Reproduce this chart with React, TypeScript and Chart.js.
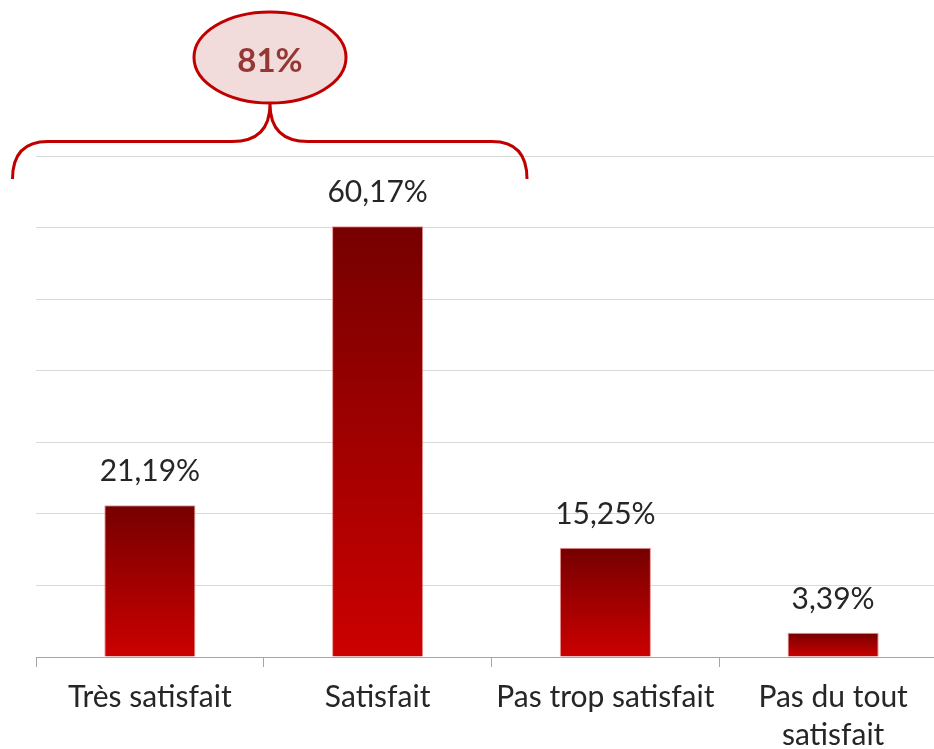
import React, { useEffect, useRef } from "react";
import { Chart, registerables } from "chart.js";

Chart.register(...registerables);

const categories: (string | string[])[] = [
  "Très satisfait",
  "Satisfait",
  "Pas trop satisfait",
  ["Pas du tout", "satisfait"],
];
const values = [21.19, 60.17, 15.25, 3.39];
const yMin = 0;
const yMax = 70;
const yStep = 10;
const groupedIndexes = [0, 1];

const FONT = "Lato, 'Noto Sans', sans-serif";
const fmt = (v: number) => v.toFixed(2).replace(".", ",") + "%";

const barLabelsPlugin = {
  id: "barLabels",
  afterDatasetsDraw(chart: any) {
    const ctx = chart.ctx;
    const meta = chart.getDatasetMeta(0);
    ctx.save();
    ctx.font = `30px ${FONT}`;
    ctx.fillStyle = "#262626";
    ctx.textAlign = "center";
    ctx.textBaseline = "alphabetic";
    meta.data.forEach((bar: any, i: number) => {
      ctx.fillText(fmt(values[i]), bar.x, bar.y - 24);
    });
    ctx.restore();
  },
};

const bracePlugin = {
  id: "brace",
  afterDraw(chart: any) {
    const ctx = chart.ctx;
    const total = Math.round(groupedIndexes.reduce((s, i) => s + values[i], 0));
    ctx.save();
    ctx.strokeStyle = "#c00000";
    ctx.lineWidth = 3;
    ctx.lineCap = "butt";
    const yH = 141.5;
    const peakX = 270;
    const peakY = 104;
    ctx.beginPath();
    ctx.moveTo(12.5, 179);
    ctx.quadraticCurveTo(12.5, yH, 48, yH);
    ctx.lineTo(232, yH);
    ctx.quadraticCurveTo(peakX, yH, peakX, peakY);
    ctx.quadraticCurveTo(peakX, yH, 308, yH);
    ctx.lineTo(492, yH);
    ctx.quadraticCurveTo(527, yH, 527, 179);
    ctx.stroke();

    ctx.beginPath();
    ctx.ellipse(270, 57.5, 76, 45.5, 0, 0, Math.PI * 2);
    ctx.fillStyle = "#f2dcdb";
    ctx.fill();
    ctx.stroke();

    ctx.fillStyle = "#953735";
    ctx.font = `bold 33px ${FONT}`;
    ctx.textAlign = "center";
    ctx.textBaseline = "alphabetic";
    ctx.fillText(`${total}%`, 270, 72);
    ctx.restore();
  },
};

export default function App() {
  const canvasRef = useRef<HTMLCanvasElement | null>(null);

  useEffect(() => {
    const canvas = canvasRef.current;
    if (!canvas) return;
    const chart = new Chart(canvas, {
      type: "bar",
      data: {
        labels: categories as any,
        datasets: [
          {
            data: values,
            barPercentage: 0.4,
            categoryPercentage: 1,
            borderWidth: 1,
            borderSkipped: "bottom",
            borderColor: "rgba(225,110,110,0.75)",
            backgroundColor: (c: any) => {
              const ch = c.chart;
              if (!ch.chartArea || c.type !== "data") return "#a00000";
              const ys = ch.scales.y;
              const top = ys.getPixelForValue(values[c.dataIndex]);
              const bottom = ys.getPixelForValue(0);
              const g = ch.ctx.createLinearGradient(0, top, 0, bottom);
              g.addColorStop(0, "#760000");
              g.addColorStop(1, "#cc0000");
              return g;
            },
          },
        ],
      },
      options: {
        responsive: false,
        animation: false,
        devicePixelRatio: 1,
        layout: { padding: { left: 36, top: 156, right: 3, bottom: 0 } },
        plugins: {
          legend: { display: false },
          tooltip: { enabled: false },
          title: { display: false },
        },
        scales: {
          x: {
            grid: {
              display: true,
              drawOnChartArea: false,
              drawTicks: true,
              tickLength: 10,
              color: "#a6a6a6",
              offset: true,
            },
            border: { display: true, color: "#a6a6a6", width: 1 },
            ticks: {
              font: { family: FONT, size: 30, lineHeight: 1.28 },
              color: "#262626",
              padding: 11,
              maxRotation: 0,
              autoSkip: false,
            },
            afterFit: (s: any) => {
              s.height = 92;
            },
          },
          y: {
            min: yMin,
            max: yMax,
            ticks: { display: false, stepSize: yStep },
            grid: { color: "#d9d9d9", lineWidth: 1, drawTicks: false },
            border: { display: false },
            afterFit: (s: any) => {
              s.width = 0;
            },
          },
        },
      },
      plugins: [barLabelsPlugin, bracePlugin],
    });
    return () => chart.destroy();
  }, []);

  return (
    <div
      style={{
        position: "fixed",
        left: 0,
        top: 0,
        width: 934,
        height: 749,
        overflow: "hidden",
        background: "#fff",
      }}
    >
      <canvas ref={canvasRef} width={950} height={749} style={{ width: 950, height: 749 }} />
    </div>
  );
}
